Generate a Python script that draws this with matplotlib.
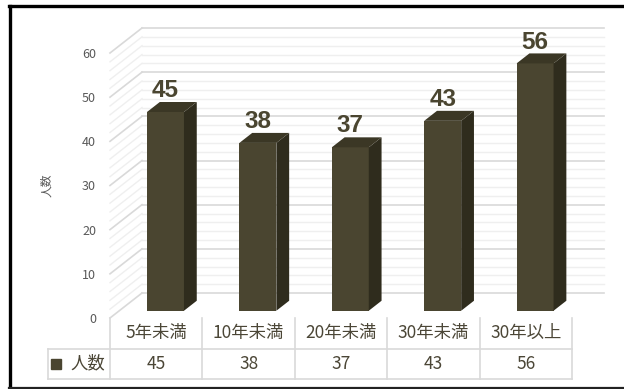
import matplotlib
matplotlib.use('Agg')
import matplotlib.pyplot as plt
from matplotlib.patches import Polygon, Rectangle
from matplotlib.lines import Line2D
import numpy as np

plt.rcParams['font.family'] = ['Noto Sans CJK JP', 'DejaVu Sans']

# data
categories = ['5年未満', '10年未満', '20年未満', '30年未満', '30年以上']
counts = [45, 38, 37, 43, 56]
series_name = '人数'
y_ticks = [0, 10, 20, 30, 40, 50, 60]

FRONT = '#4a4530'
SIDE = '#2f2c1d'
TOP = '#3b3725'
TEXT = '#4b4636'

W, H = 624, 389
fig = plt.figure(figsize=(W / 100, H / 100), dpi=100)

# front plane of the 3d plot, in pixels
x0, x1, y0, y1 = 110, 572, 318, 53
ax = fig.add_axes([x0 / W, 1 - y0 / H, (x1 - x0) / W, (y0 - y1) / H])
ax.set_xlim(-0.5, len(categories) - 0.5)
ax.set_ylim(0, 60)
for s in ax.spines.values():
    s.set_visible(False)
ax.set_xticks([])
ax.set_yticks(y_ticks)
ax.tick_params(axis='y', length=0, pad=10, labelsize=9, labelcolor='#595959')
ax.set_ylabel(series_name, fontsize=8.5, color='#595959')
ax.yaxis.set_label_coords(-0.123, 0.5)

# depth of the box in data units (32 px right, 25 px up)
px_x = (x1 - x0) / len(categories)
px_y = (y0 - y1) / 60
DX, DY = 32 / px_x, 25 / px_y
xl, xr = -0.5, len(categories) - 0.5

# walls: back + left side, minor every 2 and major every 10
for v in range(0, 61, 2):
    major = v % 10 == 0
    c = '#d9d9d9' if major else '#efefef'
    lw = 1.2 if major else 1.0
    ax.plot([xl + DX, xr + DX], [v + DY, v + DY], color=c, lw=lw,
            clip_on=False, zorder=1 if major else 0.5)
    ax.plot([xl, xl + DX], [v, v + DY], color=c, lw=lw,
            clip_on=False, zorder=1 if major else 0.5)

# 3d columns
f0, dd = 0.29, 0.40
bw = 0.40
for i, v in enumerate(counts):
    bx0 = i - bw / 2 + f0 * DX
    bx1 = bx0 + bw
    by = f0 * DY
    ddx, ddy = dd * DX, dd * DY
    ax.add_patch(Rectangle((bx0, by), bw, v, facecolor=FRONT,
                           edgecolor='none', zorder=3, clip_on=False))
    ax.add_patch(Polygon([(bx1, by), (bx1 + ddx, by + ddy),
                          (bx1 + ddx, by + ddy + v), (bx1, by + v)],
                         closed=True, facecolor=SIDE, edgecolor='none',
                         zorder=3, clip_on=False))
    ax.add_patch(Polygon([(bx0, by + v), (bx1, by + v),
                          (bx1 + ddx, by + v + ddy), (bx0 + ddx, by + v + ddy)],
                         closed=True, facecolor=TOP, edgecolor='none',
                         zorder=3, clip_on=False))
    ax.annotate(str(v), (i + f0 * DX, by + v + ddy), xytext=(0, 3.5),
                textcoords='offset points', ha='center', va='baseline',
                fontsize=17.5, fontweight='bold', color=FRONT,
                family=['Liberation Sans'],
                zorder=4, annotation_clip=False)

# data table under the plot
t_left, t_bot = 48, 379
key_w = (x0 - t_left) / px_x
tax = fig.add_axes([t_left / W, 1 - t_bot / H, (x1 - t_left) / W, (t_bot - y0) / H])
tax.set_xlim(xl - key_w, xr)
tax.set_ylim(0, 2)
tax.axis('off')
grid_c = '#d9d9d9'
for yy in (0, 1):
    tax.plot([xl - key_w, xr], [yy, yy], color=grid_c, lw=1.2, clip_on=False)
tax.plot([xl - key_w, xl - key_w], [0, 1], color=grid_c, lw=1.2, clip_on=False)
for k in range(len(categories) + 1):
    tax.plot([xl + k, xl + k], [0, 2], color=grid_c, lw=1.2, clip_on=False)
for i, (cat, v) in enumerate(zip(categories, counts)):
    tax.text(i, 1.5, cat, ha='center', va='center', fontsize=12.5, color=TEXT)
    tax.text(i, 0.5, str(v), ha='center', va='center', fontsize=12.5, color=TEXT)
tax.plot([xl - key_w + 0.09], [0.5], marker='s', ms=6.5, color=FRONT,
         clip_on=False)
tax.text(xl - key_w + 0.24, 0.5, series_name, ha='left', va='center',
         fontsize=12.5, color=TEXT)

# frame around the chart
fig.add_artist(Line2D([9.5 / W, 9.5 / W], [1 - 5.5 / H, 1 - 388 / H],
                      color='black', lw=2.4, transform=fig.transFigure))
fig.add_artist(Line2D([8.5 / W, 1], [1 - 5.5 / H, 1 - 5.5 / H],
                      color='black', lw=2.4, transform=fig.transFigure))
fig.add_artist(Line2D([8.5 / W, 1], [1 - 387.8 / H, 1 - 387.8 / H],
                      color='#222222', lw=1.6, transform=fig.transFigure))

fig.savefig('out.png', dpi=100)
